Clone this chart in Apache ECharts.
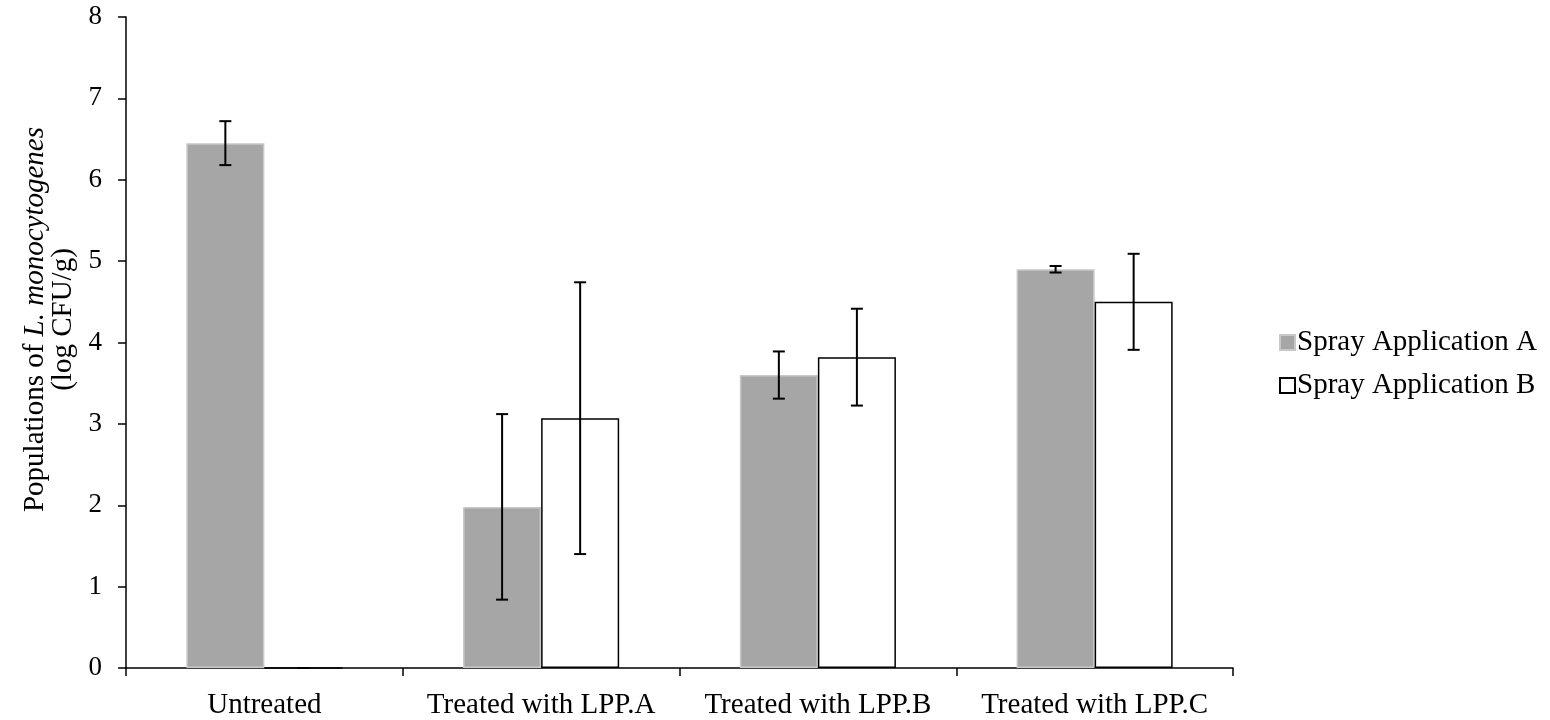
<!DOCTYPE html>
<html><head><meta charset="utf-8">
<script src="https://cdn.jsdelivr.net/npm/echarts@6/dist/echarts.min.js"></script>
<style>html,body{margin:0;padding:0;background:#fff}#c{width:1550px;height:720px}</style>
</head><body><div id="c"></div>
<script>
const categories = ['Untreated', 'Treated with LPP.A', 'Treated with LPP.B', 'Treated with LPP.C'];
const seriesNames = ['Spray Application A', 'Spray Application B'];
const valuesA = [6.45, 1.98, 3.60, 4.90];
const errorsA = [0.27, 1.14, 0.29, 0.04];
const valuesB = [0, 3.07, 3.82, 4.50];
const errorsB = [0, 1.67, 0.595, 0.59];
const yTicks = [0, 1, 2, 3, 4, 5, 6, 7, 8];

const FONT = 'Liberation Serif';
const chart = echarts.init(document.getElementById('c'));
const barFrac = 0.282;

function errSeries(vals, errs, side) {
  return {
    type: 'custom',
    silent: true,
    z: 10,
    data: vals.map((v, i) => [i, v, errs[i]]),
    renderItem: function (params, api) {
      const idx = api.value(0), v = api.value(1), e = api.value(2);
      const band = api.size([1, 0])[0];
      const off = side * band * barFrac / 2;
      const top = api.coord([idx, v + e]);
      const bot = api.coord([idx, v - e]);
      const x = top[0] + off;
      const cap = 6;
      const st = { stroke: '#000', lineWidth: 2 };
      return {
        type: 'group',
        children: [
          { type: 'line', shape: { x1: x, y1: top[1], x2: x, y2: bot[1] }, style: st },
          { type: 'line', shape: { x1: x - cap, y1: top[1], x2: x + cap, y2: top[1] }, style: st },
          { type: 'line', shape: { x1: x - cap, y1: bot[1], x2: x + cap, y2: bot[1] }, style: st }
        ]
      };
    }
  };
}

chart.setOption({
  animation: false,
  backgroundColor: '#fff',
  textStyle: { fontFamily: FONT, color: '#000' },
  grid: { left: 126, right: 317, top: 17, bottom: 52, containLabel: false, outerBoundsMode: 'none' },
  legend: {
    orient: 'vertical',
    left: 1274,
    top: 323,
    itemWidth: 15,
    itemHeight: 15,
    itemGap: 14,
    icon: 'rect',
    data: seriesNames,
    textStyle: { fontFamily: FONT, fontSize: 29, color: '#000', padding: [0, 0, 0, -3] }
  },
  xAxis: {
    type: 'category',
    data: categories,
    axisLine: { lineStyle: { color: '#000', width: 1.5 } },
    axisTick: { show: true, interval: 0, length: 8, inside: false, lineStyle: { color: '#000', width: 1.5 } },
    axisLabel: { interval: 0, fontFamily: FONT, fontSize: 29, color: '#000', margin: 23 },
    splitLine: { show: false }
  },
  yAxis: {
    type: 'value',
    min: yTicks[0],
    max: yTicks[yTicks.length - 1],
    interval: 1,
    name: '{n|Populations of }{i|L. monocytogenes}\n{n|(log CFU/g)}',
    nameLocation: 'middle',
    nameGap: 45,
    nameRotate: 90,
    nameTextStyle: {
      padding: [0, 0, 0, 46],
      rich: {
        n: { fontFamily: FONT, fontSize: 29, color: '#000', lineHeight: 28 },
        i: { fontFamily: FONT, fontSize: 29, color: '#000', fontStyle: 'italic', lineHeight: 28 }
      }
    },
    axisLine: { show: true, lineStyle: { color: '#000', width: 1.5 } },
    axisTick: { show: true, length: 8, lineStyle: { color: '#000', width: 1.5 } },
    axisLabel: { fontFamily: FONT, fontSize: 27, color: '#000', margin: 24 },
    splitLine: { show: false }
  },
  series: [
    {
      name: seriesNames[0],
      type: 'bar',
      data: valuesA,
      barGap: '0%',
      barCategoryGap: '43.6%',
      itemStyle: { color: '#a6a6a6', borderColor: '#c8c8c8', borderWidth: 1.5 }
    },
    {
      name: seriesNames[1],
      type: 'bar',
      data: valuesB,
      barGap: '0%',
      barCategoryGap: '43.6%',
      itemStyle: { color: '#ffffff', borderColor: '#000', borderWidth: 1.5 }
    },
    errSeries(valuesA, errorsA, -1),
    errSeries(valuesB, errorsB, 1)
  ]
});
</script></body></html>
